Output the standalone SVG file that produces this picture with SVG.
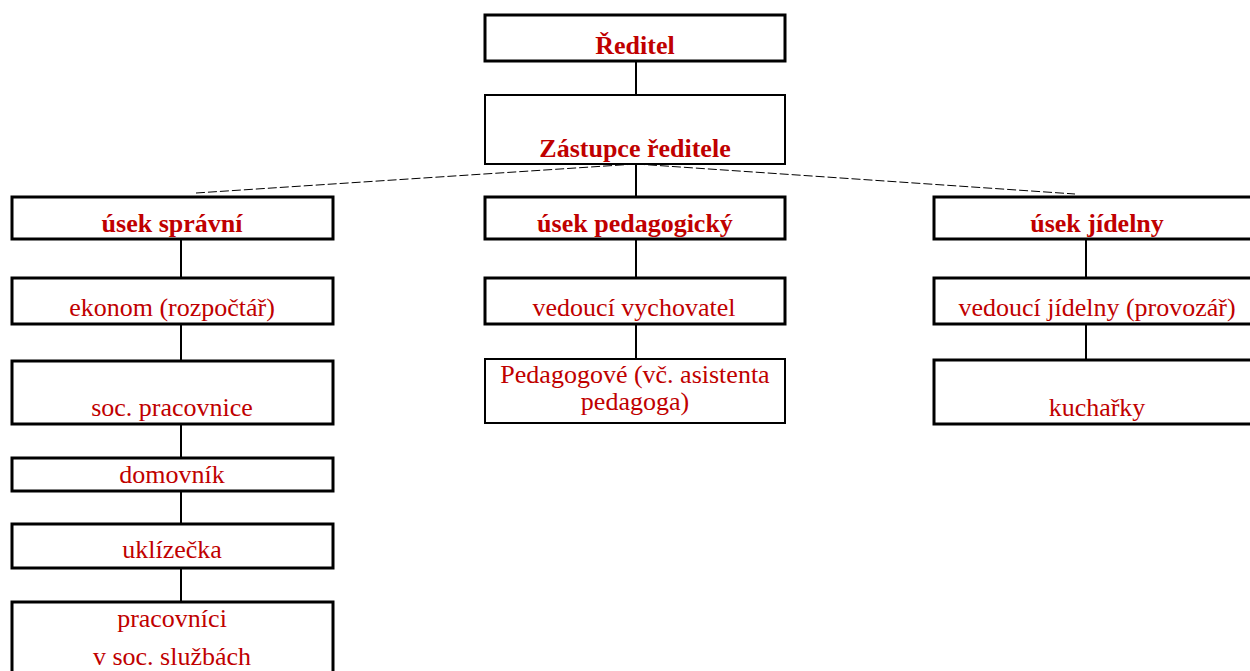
<svg xmlns="http://www.w3.org/2000/svg" width="1250" height="671" viewBox="0 0 1250 671">
<style>
.b3{fill:#fff;stroke:#000;stroke-width:3}
.b2{fill:#fff;stroke:#000;stroke-width:2}
.t{font-family:"Liberation Serif","Times New Roman",serif;font-size:26px;fill:#C00000;text-anchor:middle}
.tb{font-weight:bold}
.c{stroke:#000;stroke-width:2;fill:none}
.d{stroke:#000;stroke-width:1;stroke-dasharray:9 3;fill:none}
</style>
<g id="connectors">
<line class="c" x1="636" y1="61" x2="636" y2="95"/>
<line class="c" x1="636" y1="164" x2="636" y2="197"/>
<line class="d" x1="636" y1="164" x2="196" y2="193"/>
<line class="d" x1="636" y1="164" x2="1075" y2="194"/>
<line class="c" x1="636" y1="239" x2="636" y2="278"/>
<line class="c" x1="636" y1="324" x2="636" y2="359"/>
<line class="c" x1="181" y1="239" x2="181" y2="278"/>
<line class="c" x1="181" y1="324" x2="181" y2="361"/>
<line class="c" x1="181" y1="424" x2="181" y2="458"/>
<line class="c" x1="181" y1="491" x2="181" y2="524"/>
<line class="c" x1="181" y1="568" x2="181" y2="602"/>
<line class="c" x1="1086" y1="239" x2="1086" y2="278"/>
<line class="c" x1="1086" y1="324" x2="1086" y2="360"/>
</g>
<g id="reditel"><rect class="b3" x="485" y="15" width="300" height="46"/><text class="t tb" x="635" y="54">Ředitel</text></g>
<g id="zastupce"><rect class="b2" x="485" y="95" width="300" height="69"/><text class="t tb" x="635" y="157">Zástupce ředitele</text></g>
<g id="usek-spravni"><rect class="b3" x="12" y="197" width="321" height="42"/><text class="t tb" x="172" y="232">úsek správní</text></g>
<g id="usek-pedagogicky"><rect class="b3" x="485" y="197" width="300" height="42"/><text class="t tb" x="635" y="232">úsek pedagogický</text></g>
<g id="usek-jidelny"><rect class="b3" x="934" y="197" width="330" height="42"/><text class="t tb" x="1097" y="232">úsek jídelny</text></g>
<g id="ekonom"><rect class="b3" x="12" y="278" width="321" height="46"/><text class="t" x="172" y="316">ekonom (rozpočtář)</text></g>
<g id="vedouci-vychovatel"><rect class="b3" x="485" y="278" width="300" height="46"/><text class="t" x="634" y="316">vedoucí vychovatel</text></g>
<g id="vedouci-jidelny"><rect class="b3" x="934" y="278" width="330" height="46"/><text class="t" x="1097" y="316">vedoucí jídelny (provozář)</text></g>
<g id="soc-pracovnice"><rect class="b3" x="12" y="361" width="321" height="63"/><text class="t" x="172" y="416">soc. pracovnice</text></g>
<g id="pedagogove"><rect class="b2" x="485" y="359" width="300" height="64"/><text class="t" x="635" y="383">Pedagogové (vč. asistenta</text><text class="t" x="635" y="410">pedagoga)</text></g>
<g id="kucharky"><rect class="b3" x="934" y="360" width="330" height="64"/><text class="t" x="1097" y="416">kuchařky</text></g>
<g id="domovnik"><rect class="b3" x="12" y="458" width="321" height="33"/><text class="t" x="172" y="483">domovník</text></g>
<g id="uklizecka"><rect class="b3" x="12" y="524" width="321" height="44"/><text class="t" x="172" y="558">uklízečka</text></g>
<g id="pracovnici"><rect class="b3" x="12" y="602" width="321" height="90"/><text class="t" x="172" y="627">pracovníci</text><text class="t" x="172" y="665">v soc. službách</text></g>
</svg>
